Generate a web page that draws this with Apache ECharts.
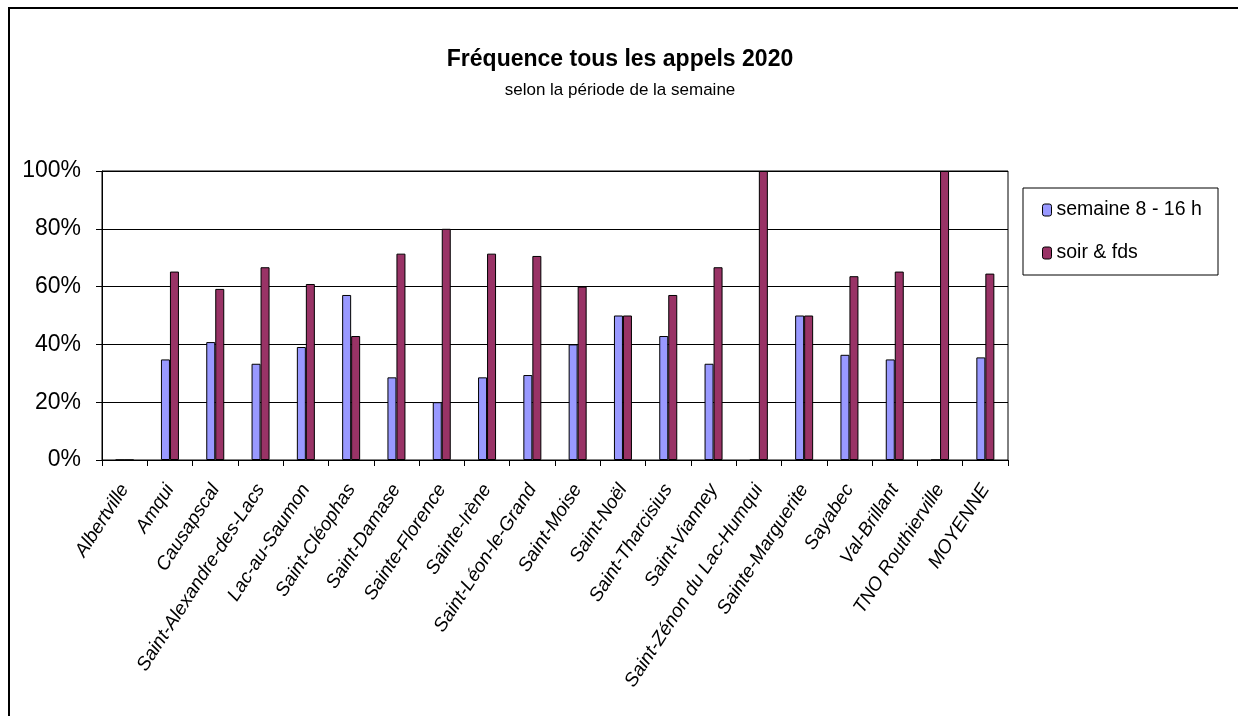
<!DOCTYPE html>
<html>
<head>
<meta charset="utf-8">
<title>Fréquence tous les appels 2020</title>
<script src="https://cdn.jsdelivr.net/npm/echarts@6/dist/echarts.min.js"></script>
<style>
  html, body { margin: 0; padding: 0; background: #fff; }
  #main { width: 1238px; height: 716px; }
</style>
</head>
<body>
<div id="main"></div>
<script>
// municipalités
var categories = [
  "Albertville", "Amqui", "Causapscal", "Saint-Alexandre-des-Lacs", "Lac-au-Saumon",
  "Saint-Cléophas", "Saint-Damase", "Sainte-Florence", "Sainte-Irène", "Saint-Léon-le-Grand",
  "Saint-Moise", "Saint-Noël", "Saint-Tharcisius", "Saint-Vianney", "Saint-Zénon du Lac-Humqui",
  "Sainte-Marguerite", "Sayabec", "Val-Brillant", "TNO Routhierville", "MOYENNE"
];
// % des appels, semaine 8 - 16 h
var semaine = [0, 34.8, 40.8, 33.3, 39.1, 57.1, 28.6, 20, 28.6, 29.4, 40, 50, 42.9, 33.3, 0, 50, 36.4, 34.8, 0, 35.5];
// % des appels, soir & fds
var soir = [0, 65.2, 59.2, 66.7, 60.9, 42.9, 71.4, 80, 71.4, 70.6, 60, 50, 57.1, 66.7, 100, 50, 63.6, 65.2, 100, 64.5];
var yTicks = [0, 20, 40, 60, 80, 100];

var font = "'Liberation Sans', Arial, sans-serif";

var chart = echarts.init(document.getElementById("main"));
chart.setOption({
  animation: false,
  backgroundColor: "#fff",
  title: {
    text: "Fréquence tous les appels 2020",
    subtext: "selon la période de la semaine",
    left: 615,
    textAlign: "center",
    top: 43,
    itemGap: 11,
    textStyle: { fontFamily: font, fontSize: 23, fontWeight: "bold", color: "#000" },
    subtextStyle: { fontFamily: font, fontSize: 17, color: "#000" }
  },
  graphic: [
    {
      // cadre du graphique
      type: "rect",
      shape: { x: 9, y: 8, width: 1300, height: 800 },
      style: { fill: "none", stroke: "#000", lineWidth: 2 },
      silent: true
    },
    {
      // cadre de la légende
      type: "rect",
      shape: { x: 1023, y: 188, width: 195, height: 87 },
      style: { fill: "#fff", stroke: "#000", lineWidth: 1 },
      z: 0,
      silent: true
    }
  ],
  legend: {
    orient: "vertical",
    left: 1042,
    top: 200,
    padding: 0,
    itemWidth: 9,
    itemHeight: 12,
    itemGap: 23,
    itemStyle: { borderColor: "#000", borderWidth: 1 },
    textStyle: { fontFamily: font, fontSize: 19.5, color: "#000" },
    data: ["semaine 8 - 16 h", "soir & fds"]
  },
  grid: {
    left: 102,
    right: 230,
    top: 171,
    bottom: 256,
    show: true,
    borderColor: "#000",
    borderWidth: 1,
    containLabel: false
  },
  xAxis: {
    type: "category",
    data: categories,
    axisLine: { lineStyle: { color: "#000", width: 1 } },
    axisTick: { show: true, length: 6, alignWithLabel: false, lineStyle: { color: "#000" } },
    axisLabel: {
      interval: 0,
      rotate: 57,
      margin: 26,
      fontFamily: font,
      fontStyle: "italic",
      fontSize: 19,
      color: "#000"
    }
  },
  yAxis: {
    type: "value",
    min: yTicks[0],
    max: yTicks[yTicks.length - 1],
    interval: 20,
    axisLine: { show: true, lineStyle: { color: "#000", width: 1 } },
    axisTick: { show: true, length: 6, lineStyle: { color: "#000" } },
    splitLine: { show: true, lineStyle: { color: "#000", width: 1 } },
    axisLabel: {
      formatter: "{value}%",
      margin: 21,
      fontFamily: font,
      fontSize: 23,
      color: "#000"
    }
  },
  series: [
    {
      name: "semaine 8 - 16 h",
      type: "bar",
      data: semaine,
      barWidth: 9,
      barGap: "0%",
      itemStyle: { color: "#9999FF", borderColor: "#000", borderWidth: 1 }
    },
    {
      name: "soir & fds",
      type: "bar",
      data: soir,
      barWidth: 9,
      barGap: "0%",
      itemStyle: { color: "#993366", borderColor: "#000", borderWidth: 1 }
    }
  ]
});
</script>
</body>
</html>
